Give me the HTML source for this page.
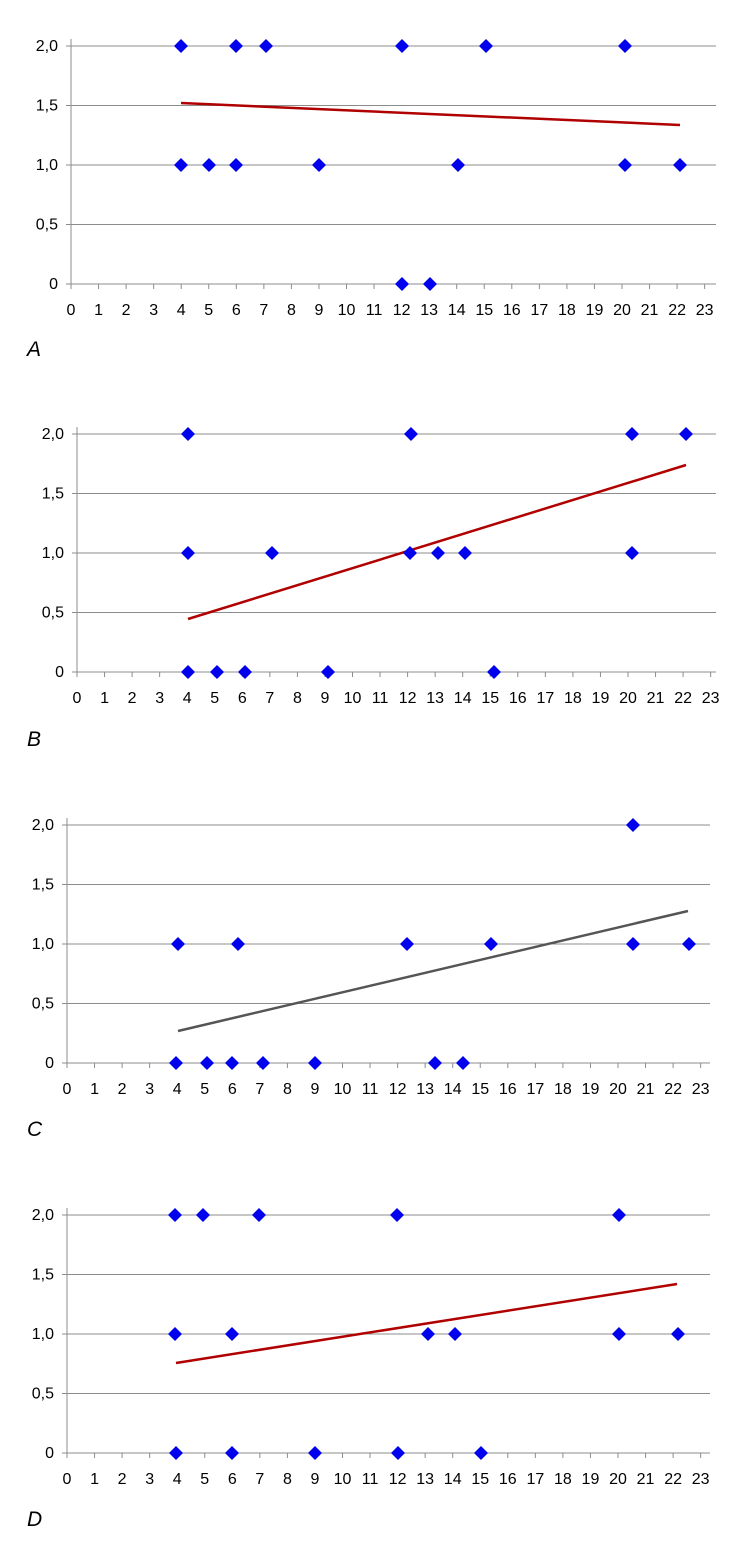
<!DOCTYPE html>
<html><head><meta charset="utf-8"><style>
html,body{margin:0;padding:0;background:#fff;}
svg{display:block;font-family:"Liberation Sans",sans-serif;}
</style></head><body>
<svg id="s" width="743" height="1541" xmlns="http://www.w3.org/2000/svg"></svg>
<script>
var P=[
{ax:71,y2:46,y0:284,r:716,lab:"A",ly:356,line:[181,103,680,125],c:"#b00000",
 pts:[[181,2],[236,2],[266,2],[402,2],[486,2],[625,2],[181,1],[209,1],[236,1],[319,1],[458,1],[625,1],[680,1],[402,0],[430,0]]},
{ax:77,y2:434,y0:672,r:716,lab:"B",ly:746,line:[188,619,686,465],c:"#b00000",
 pts:[[188,2],[411,2],[632,2],[686,2],[188,1],[272,1],[410,1],[438,1],[465,1],[632,1],[188,0],[217,0],[245,0],[328,0],[494,0]]},
{ax:67,y2:825,y0:1063,r:710,lab:"C",ly:1136,line:[178,1031,688,911],c:"#555555",
 pts:[[633,2],[178,1],[238,1],[407,1],[491,1],[633,1],[689,1],[176,0],[207,0],[232,0],[263,0],[315,0],[435,0],[463,0]]},
{ax:67,y2:1215,y0:1453,r:710,lab:"D",ly:1526,line:[176,1363,677,1284],c:"#b00000",
 pts:[[175,2],[203,2],[259,2],[397,2],[619,2],[175,1],[232,1],[428,1],[455,1],[619,1],[678,1],[176,0],[232,0],[315,0],[398,0],[481,0]]}
];
var h="";
P.forEach(function(p){
 var u=27.55, st=(p.y0-p.y2)/4;
 var yl=["0","0,5","1,0","1,5","2,0"];
 for(var i=0;i<5;i++){var y=p.y0-i*st;
  h+='<line x1="'+(p.ax-5)+'" y1="'+y+'" x2="'+p.r+'" y2="'+y+'" stroke="#8c8c8c" stroke-width="1"/>';
  h+='<text x="'+(p.ax-13)+'" y="'+(y+5)+'" font-size="16" text-anchor="end" fill="#000">'+yl[i]+'</text>';}
 h+='<line x1="'+p.ax+'" y1="'+(p.y2-7)+'" x2="'+p.ax+'" y2="'+(p.y0+4)+'" stroke="#8c8c8c"/>';
 for(var k=0;k<=23;k++){var x=p.ax+k*u;
  h+='<line x1="'+x+'" y1="'+p.y0+'" x2="'+x+'" y2="'+(p.y0+5)+'" stroke="#8c8c8c"/>';
  h+='<text x="'+x+'" y="'+(p.y0+31)+'" font-size="16" text-anchor="middle" fill="#000">'+k+'</text>';}
 var l=p.line;
 h+='<line x1="'+l[0]+'" y1="'+l[1]+'" x2="'+l[2]+'" y2="'+l[3]+'" stroke="'+p.c+'" stroke-width="2.5"/>';
 p.pts.forEach(function(q){var x=q[0],y=p.y0-q[1]*2*st,d=7;
  h+='<polygon points="'+x+','+(y-d)+' '+(x+d)+','+y+' '+x+','+(y+d)+' '+(x-d)+','+y+'" fill="#0000ee"/>';});
 h+='<text x="27" y="'+p.ly+'" font-size="21" font-style="italic" fill="#000">'+p.lab+'</text>';
});
document.getElementById("s").innerHTML=h;
</script>
</body></html>
